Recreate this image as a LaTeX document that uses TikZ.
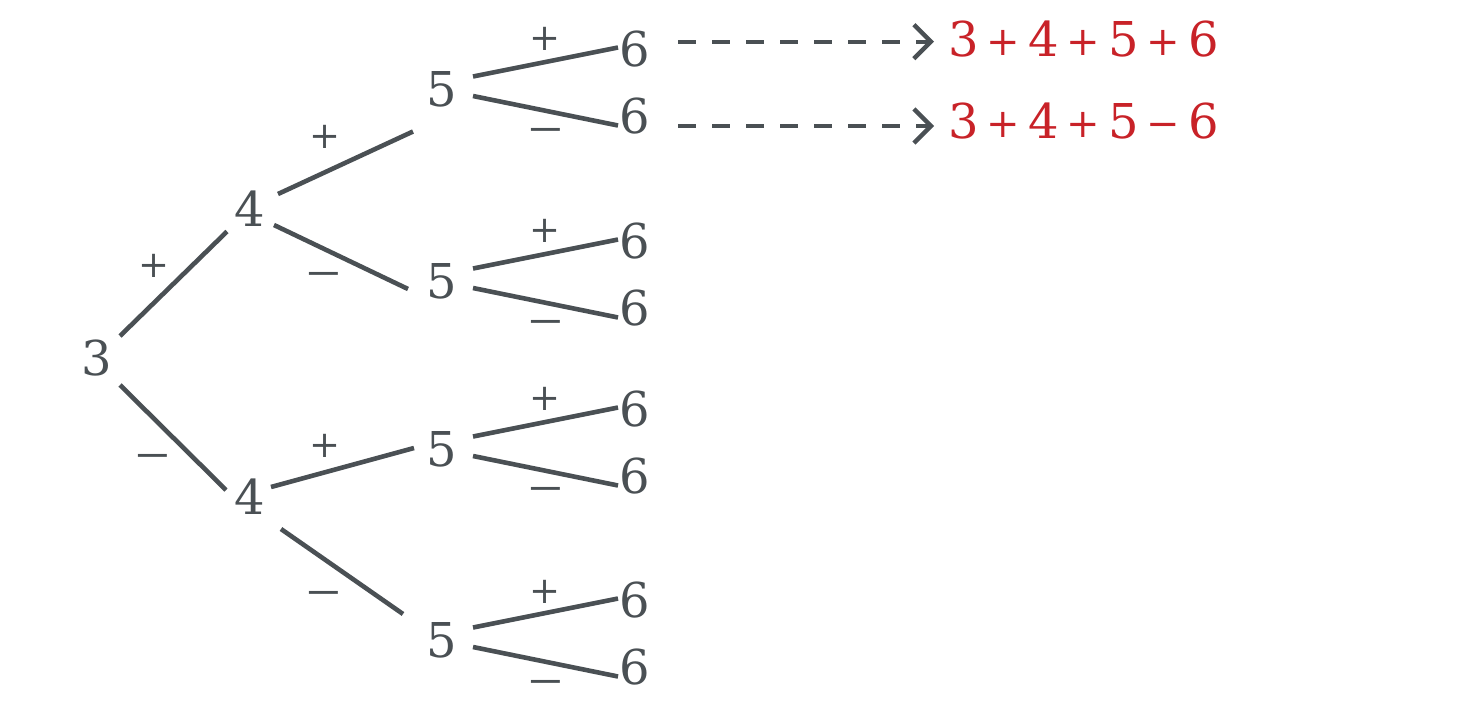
\documentclass[tikz,border=0pt]{standalone}
\usepackage{fontspec}
\setmainfont{DejaVu Serif}
\usetikzlibrary{arrows.meta}
\definecolor{ink}{RGB}{74,80,84}
\definecolor{accent}{RGB}{200,34,40}
\newcommand\opsym[1]{\hspace{8pt}\raisebox{1pt}{\fontsize{40}{40}\selectfont #1}\hspace{8pt}}
\tikzset{
  num/.style={inner sep=0pt, text=ink, font=\fontsize{48}{48}\selectfont},
  lab/.style={inner sep=0pt, text=ink, font=\fontsize{37}{37}\selectfont, text height=24pt, text depth=0pt},
  edge/.style={draw=ink, line width=4.6pt},
  dasharrow/.style={draw=ink, line width=4.4pt, dash pattern=on 18pt off 16pt, -{Straight Barb[length=17pt,width=34pt,line width=4.4pt]}},
  result/.style={inner sep=0pt, anchor=west, text=accent, font=\fontsize{48}{48}\selectfont}
}
\begin{document}
\begin{tikzpicture}[x=1pt,y=-1pt]
\useasboundingbox (0,0) rectangle (1475,704);
% numbers
\node[num] (n3) at (97,358) {3};
\node[num] (n4a) at (250,208.5) {4};
\node[num] (n4b) at (250,496.5) {4};
\node[num] (n5a) at (442,89.5) {5};
\node[num] (n5b) at (442,281.5) {5};
\node[num] (n5c) at (442,449.5) {5};
\node[num] (n5d) at (442,640.5) {5};
\node[num] (n6a) at (634.5,49.5) {6};
\node[num] (n6b) at (634.5,116.5) {6};
\node[num] (n6c) at (634.5,241.5) {6};
\node[num] (n6d) at (634.5,308.5) {6};
\node[num] (n6e) at (634.5,409.5) {6};
\node[num] (n6f) at (634.5,476.5) {6};
\node[num] (n6g) at (634.5,600.5) {6};
\node[num] (n6h) at (634.5,667.5) {6};
% edges
\draw[edge] ([shift={(23,-22)}]n3.center) -- ([shift={(-23,23)}]n4a.center);
\draw[edge] ([shift={(23,27)}]n3.center) -- ([shift={(-24,-6.5)}]n4b.center);
\draw[edge] ([shift={(28,-14.5)}]n4a.center) -- ([shift={(-29,42)}]n5a.center);
\draw[edge] ([shift={(24,16.5)}]n4a.center) -- ([shift={(-34,7.5)}]n5b.center);
\draw[edge] ([shift={(21,-9.5)}]n4b.center) -- ([shift={(-28,-1.5)}]n5c.center);
\draw[edge] ([shift={(31,32.5)}]n4b.center) -- ([shift={(-39,-26.5)}]n5d.center);
\foreach \f/\u/\l in {n5a/n6a/n6b, n5b/n6c/n6d, n5c/n6e/n6f, n5d/n6g/n6h}{
  \draw[edge] ([shift={(31,-13)}]\f.center) -- ([shift={(-16.5,-2)}]\u.center);
  \draw[edge] ([shift={(31,6.5)}]\f.center) -- ([shift={(-16.5,9)}]\l.center);
}
% edge labels
\node[lab] (p1) at (153.5,265.5) {+};
\node[lab] (m1) at (152.5,455) {\scalebox{1.25}[1]{−}};
\node[lab] (p2) at (325,136) {+};
\node[lab] (m2) at (324,273) {\scalebox{1.25}[1]{−}};
\node[lab] (p3) at (325,445) {+};
\node[lab] (m3) at (324,592) {\scalebox{1.25}[1]{−}};
\node[lab] (p4) at (545,38) {+};
\node[lab] (m4) at (546,129.3) {\scalebox{1.25}[1]{−}};
\node[lab] (p5) at (545,230.7) {+};
\node[lab] (m5) at (546,321.7) {\scalebox{1.25}[1]{−}};
\node[lab] (p6) at (545,398) {+};
\node[lab] (m6) at (546,488) {\scalebox{1.25}[1]{−}};
\node[lab] (p7) at (545,591) {+};
\node[lab] (m7) at (546,681) {\scalebox{1.25}[1]{−}};
% results
\node[result] (r1) at (948,39) {3\opsym{+}4\opsym{+}5\opsym{+}6};
\node[result] (r2) at (948,121) {3\opsym{+}4\opsym{+}5\opsym{−}6};
\draw[dasharrow] ([shift={(43.5,-7.8)}]n6a.center) -- ([shift={(-14,2.7)}]r1.west);
\draw[dasharrow] ([shift={(43.5,9.5)}]n6b.center) -- ([shift={(-14,5)}]r2.west);
\end{tikzpicture}
\end{document}
